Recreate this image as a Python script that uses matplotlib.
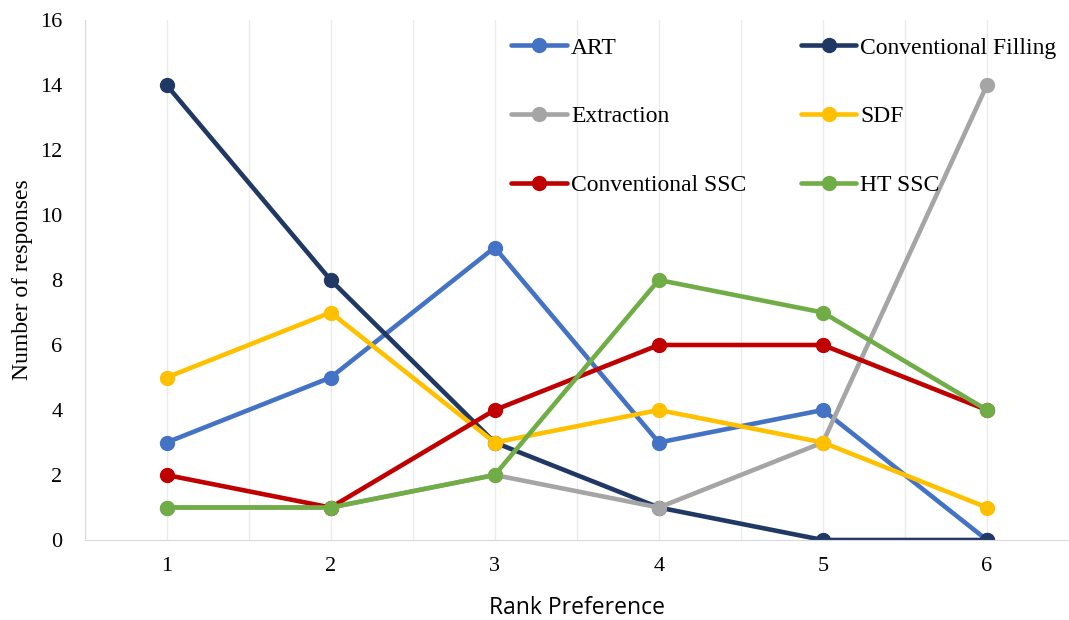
import numpy as np
import matplotlib.pyplot as plt

# rank positions and response counts per treatment
ranks = [1, 2, 3, 4, 5, 6]
art = [3, 5, 9, 3, 4, 0]
conv_filling = [14, 8, 3, 1, 0, 0]
extraction = [1, 1, 2, 1, 3, 14]
sdf = [5, 7, 3, 4, 3, 1]
conv_ssc = [2, 1, 4, 6, 6, 4]
ht_ssc = [1, 1, 2, 8, 7, 4]

series = [
    ("ART", art, "#4472C4"),
    ("Conventional Filling", conv_filling, "#203864"),
    ("Extraction", extraction, "#A5A5A5"),
    ("SDF", sdf, "#FFC000"),
    ("Conventional SSC", conv_ssc, "#C00000"),
    ("HT SSC", ht_ssc, "#70AD47"),
]

fig = plt.figure(figsize=(10.69, 6.2), dpi=100)
ax = fig.add_axes([84.5 / 1069, 80 / 620, 1 - 84.5 / 1069, 520 / 620])

for name, vals, col in series:
    ax.plot(ranks, vals, color=col, lw=3.3, marker="o", ms=10,
            solid_capstyle="round", label=name)

ax.set_xlim(0.5, 0.5 + (1069 - 84.5) / 165.2)
ax.set_ylim(0, 16)
ax.set_yticks(np.arange(0, 17, 2))
ax.set_xticks(ranks)
ax.set_xticks(np.arange(0.5, 7, 1), minor=True)
ax.grid(axis="x", which="both", color="#EBEBEB", lw=1)
ax.set_axisbelow(True)
ax.tick_params(which="both", length=0)
ax.tick_params(axis="y", pad=16)
ax.tick_params(axis="x", pad=12)
for lab in ax.get_xticklabels() + ax.get_yticklabels():
    lab.set_fontfamily("Liberation Serif")
    lab.set_fontsize(16)

for s in ["top", "right"]:
    ax.spines[s].set_visible(False)
for s in ["left", "bottom"]:
    ax.spines[s].set_color("#D9D9D9")

ax.set_xlabel("Rank Preference", fontsize=16.5, family="Open Sans", labelpad=15)
ax.set_ylabel("Number of responses", fontsize=17, family="Liberation Serif", labelpad=5)

# legend filled row by row: two entries per row
h, l = ax.get_legend_handles_labels()
order = [0, 2, 4, 1, 3, 5]
ax.legend([h[i] for i in order], [l[i] for i in order], ncol=2,
          loc="upper left", bbox_to_anchor=(511 / 1069, 1 - 37 / 620),
          bbox_transform=fig.transFigure, frameon=False,
          prop={"family": "Liberation Serif", "size": 17},
          handlelength=2.37, handletextpad=0.17, labelspacing=2.0,
          columnspacing=2.3, borderaxespad=0, borderpad=0)

fig.savefig("out.png", dpi=100)
plt.close()
